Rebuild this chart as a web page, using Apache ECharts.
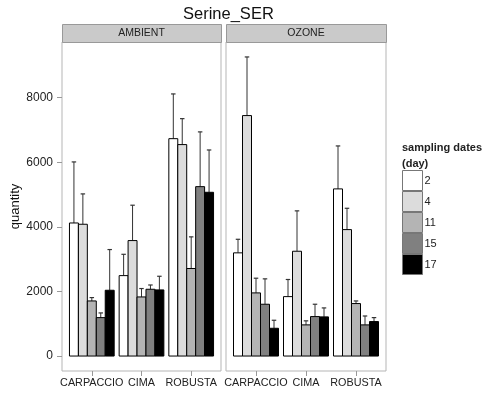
<!DOCTYPE html>
<html><head><meta charset="utf-8">
<script src="https://cdn.jsdelivr.net/npm/echarts@6/dist/echarts.min.js"></script>
<style>html,body{margin:0;padding:0;background:#fff}#c{width:486px;height:396px}</style>
</head><body><div id="c"></div>
<script>
const categories = ['CARPACCIO', 'CIMA', 'ROBUSTA'];
const days = ['2', '4', '11', '15', '17'];
const panels = ['AMBIENT', 'OZONE'];
const yTicks = [0, 2000, 4000, 6000, 8000];
// mean per day (rows) per category (columns)
const ambientMean = [
  [4120, 2490, 6730],
  [4080, 3575, 6547],
  [1706, 1830, 2710],
  [1190, 2068, 5245],
  [2037, 2047, 5070]
];
const ambientUpper = [
  [6010, 3150, 8115],
  [5020, 4670, 7350],
  [1810, 2090, 3690],
  [1335, 2200, 6940],
  [3297, 2470, 6380]
];
const ozoneMean = [
  [3195, 1840, 5175],
  [7445, 3245, 3915],
  [1955, 965, 1625],
  [1604, 1222, 965],
  [860, 1212, 1068]
];
const ozoneUpper = [
  [3615, 2370, 6505],
  [9260, 4495, 4575],
  [2410, 1090, 1706],
  [2390, 1604, 1240],
  [1108, 1490, 1190]
];
const dayColors = ['#ffffff', '#dcdcdc', '#b4b4b4', '#808080', '#000000'];

const FONT = 'Liberation Sans';
const BW = 0.18;
const chart = echarts.init(document.getElementById('c'), null, {renderer: 'canvas'});

function makeSeries(gridIdx, means, uppers) {
  return days.map((d, j) => ({
    name: d,
    type: 'custom',
    xAxisIndex: gridIdx,
    yAxisIndex: gridIdx,
    itemStyle: {color: dayColors[j]},
    encode: {x: 0, y: 1},
    data: categories.map((c, i) => [i + 1, means[j][i], uppers[j][i]]),
    renderItem: function (params, api) {
      const ci = api.value(0);
      const v = api.value(1);
      const up = api.value(2);
      const xc = ci + (j - 2) * BW;
      const p0 = api.coord([xc - BW / 2, v]);
      const p1 = api.coord([xc + BW / 2, 0]);
      const pc = api.coord([xc, v]);
      const pu = api.coord([xc, up]);
      const cl = api.coord([xc - 0.045, up]);
      const cr = api.coord([xc + 0.045, up]);
      return {
        type: 'group',
        children: [
          {type: 'line', shape: {x1: pc[0], y1: pc[1], x2: pu[0], y2: pu[1]},
           style: {stroke: '#333', lineWidth: 1}},
          {type: 'line', shape: {x1: cl[0], y1: cl[1], x2: cr[0], y2: cr[1]},
           style: {stroke: '#333', lineWidth: 1.2}},
          {type: 'rect', shape: {x: p0[0], y: p0[1], width: p1[0] - p0[0], height: p1[1] - p0[1]},
           style: {fill: dayColors[j], stroke: '#000', lineWidth: 1}}
        ]
      };
    }
  }));
}

const grids = [
  {left: 62, top: 42, width: 159, height: 329},
  {left: 226, top: 42, width: 160, height: 329}
];

const xAxes = grids.map((g, k) => ({
  type: 'value', gridIndex: k, min: 0.4, max: 3.6,
  axisLine: {show: false, onZero: false},
  splitLine: {show: false},
  axisTick: {show: true, length: 5, lineStyle: {color: '#999'}, customValues: [1, 2, 3]},
  axisLabel: {
    show: true, margin: 7, fontFamily: FONT, fontSize: 10.8, color: '#222',
    customValues: [1, 2, 3],
    formatter: v => categories[Math.round(v) - 1]
  }
}));

const yAxes = grids.map((g, k) => ({
  type: 'value', gridIndex: k, min: -463, max: 9723,
  axisLine: {show: false, onZero: false},
  splitLine: {show: false},
  axisTick: {show: k === 0, length: 5, lineStyle: {color: '#999'}, customValues: yTicks},
  axisLabel: {show: k === 0, margin: 9, fontFamily: FONT, fontSize: 12, color: '#222',
              customValues: yTicks, formatter: v => String(v)},
  name: k === 0 ? 'quantity' : '',
  nameLocation: 'middle', nameGap: 29,
  nameTextStyle: {fontFamily: FONT, fontSize: 13, color: '#111'}
}));

const graphics = [];
grids.forEach((g, k) => {
  graphics.push({
    type: 'rect', left: g.left, top: 24, shape: {width: g.width, height: 18},
    style: {fill: '#cacaca', stroke: '#999', lineWidth: 1}, z: 1
  });
  graphics.push({
    type: 'text', x: g.left + g.width / 2, y: 33,
    style: {text: panels[k], fontFamily: FONT, fontSize: 10.5, fill: '#222',
            textAlign: 'center', textVerticalAlign: 'middle'}, z: 2
  });
});

chart.setOption({
  animation: false,
  backgroundColor: '#fff',
  title: [
    {text: 'Serine_SER', left: 178, top: 1, z: 20,
     textStyle: {fontFamily: FONT, fontSize: 16.5, fontWeight: 'normal', color: '#111'}},
    {text: 'sampling dates\n(day)', left: 397, top: 135,
     textStyle: {fontFamily: FONT, fontSize: 11, fontWeight: 'bold', color: '#222', lineHeight: 16}}
  ],
  grid: grids.map(g => Object.assign({show: true, borderColor: '#b5b5b5', borderWidth: 1, backgroundColor: '#fff'}, g)),
  xAxis: xAxes,
  yAxis: yAxes,
  legend: {
    orient: 'vertical', left: 402, top: 170, padding: 0,
    itemWidth: 20, itemHeight: 20, itemGap: 0,
    icon: 'rect', selectedMode: false,
    data: days,
    itemStyle: {borderColor: '#777', borderWidth: 1},
    textStyle: {fontFamily: FONT, fontSize: 11, color: '#222', padding: [0, 0, 0, -3]}
  },
  graphic: graphics,
  series: [].concat(makeSeries(0, ambientMean, ambientUpper), makeSeries(1, ozoneMean, ozoneUpper))
});
</script></body></html>
